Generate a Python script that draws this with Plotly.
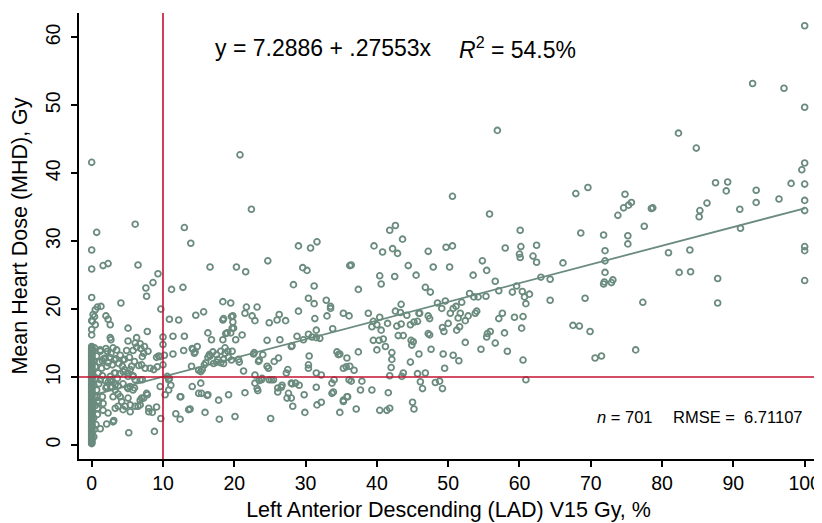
import plotly.graph_objects as go

# ---- data (LAD V15 %, MHD Gy) ----
mhd_at_zero_lad = [
    0.2, 0.3, 0.4, 0.5, 0.7, 0.8, 0.9, 1.0, 1.1, 1.2, 1.4, 1.5, 1.6, 1.7, 1.9, 2.0,
    2.1, 2.2, 2.4, 2.5, 2.6, 2.8, 2.9, 3.0, 3.1, 3.3, 3.4, 3.5, 3.6, 3.8, 3.9, 4.0,
    4.1, 4.3, 4.4, 4.5, 4.6, 4.8, 4.9, 5.0, 5.2, 5.3, 5.4, 5.5, 5.7, 5.8, 5.9, 6.0,
    6.2, 6.3, 6.4, 6.5, 6.7, 6.8, 6.9, 7.0, 7.2, 7.3, 7.4, 7.5, 7.7, 7.8, 7.9, 8.0,
    8.2, 8.3, 8.4, 8.5, 8.7, 8.8, 8.9, 9.1, 9.2, 9.3, 9.4, 9.6, 9.7, 9.8, 9.9, 10.1,
    10.2, 10.3, 10.4, 10.6, 10.7, 10.8, 10.9, 11.1, 11.2, 11.3, 11.4, 11.6, 11.7, 11.8,
    12.0, 12.1, 12.2, 12.3, 12.5, 12.6, 12.7, 12.8, 13.0, 13.1, 13.2, 13.3, 13.5, 13.6,
    13.7, 13.8, 14.0, 14.1, 14.2, 14.4, 14.5, 16.2, 17.0, 18.3, 21.7, 25.9, 28.7, 41.6,
]

near_zero_pts = [
    (0.1, 18.2), (0.2, 19.2), (0.5, 19.9), (0.5, 17.7), (0.8, 20.3), (1.3, 20.4),
    (0.4, 18.9), (0.6, 3.0), (0.8, 4.5), (0.5, 5.8), (0.9, 6.5), (0.4, 7.2),
    (0.7, 8.1), (1.0, 9.0), (0.6, 9.8), (0.9, 10.6), (0.5, 11.5), (1.1, 12.2),
    (0.7, 13.1), (1.2, 13.8), (0.3, 1.2), (0.4, 2.3), (0.3, 4.0), (0.2, 6.1),
    (0.3, 8.8), (0.2, 10.2), (0.3, 12.4), (0.2, 13.9), (0.4, 14.3), (0.7, 31.3),
    (1.2, 2.4), (0.7, 7.1), (0.9, 6.2), (0.8, 5.4), (1.2, 9.6),
]

low_lad_pts = [
    (1.6, 26.4), (2.3, 26.7), (6.5, 26.5), (6.1, 32.5), (9.3, 25.2), (8.6, 23.9),
    (7.6, 23.1), (7.7, 21.9), (4.1, 20.9), (9.7, 20.0), (11.2, 22.9), (12.8, 23.2),
    (13.0, 32.0), (13.9, 29.7), (2.0, 19.0), (2.3, 18.5), (2.6, 17.7), (10.9, 18.5),
    (12.2, 18.4), (5.1, 17.2), (7.8, 16.7), (10.0, 15.9), (10.0, 14.8), (11.4, 16.0),
    (13.0, 16.0), (14.8, 14.5), (2.6, 15.8), (2.7, 15.5), (5.1, 15.3), (6.3, 15.8),
    (6.8, 14.9), (6.1, 15.0), (7.4, 14.5), (7.9, 13.8), (7.3, 13.5), (7.1, 13.0),
    (12.9, 13.9), (11.4, 13.4), (10.2, 13.2), (9.4, 13.1), (9.1, 12.9), (9.6, 13.0),
    (4.6, 12.6), (3.4, 12.7), (2.7, 13.5), (2.2, 13.8), (1.9, 12.8), (1.5, 12.4),
    (2.3, 12.1), (4.3, 11.6), (5.6, 11.6), (6.6, 11.7), (7.5, 11.3), (8.2, 11.3),
    (8.7, 11.1), (10.0, 11.8), (9.2, 11.5), (7.0, 11.8), (2.0, 14.2), (1.7, 12.7),
    (1.4, 11.3), (2.1, 11.6), (2.9, 11.8), (3.2, 12.5), (3.8, 12.0), (4.4, 12.5),
    (4.9, 13.9), (5.8, 13.9), (6.3, 14.4), (6.9, 14.2), (3.5, 14.0), (4.0, 13.2),
    (5.3, 12.9), (6.0, 12.3), (2.5, 12.9), (1.2, 14.0), (3.0, 14.3), (4.6, 11.1),
    (5.1, 10.1), (5.8, 10.1), (6.1, 9.6), (6.8, 9.6), (7.1, 9.6), (3.2, 10.6),
    (2.6, 10.1), (4.0, 10.5), (1.5, 10.2), (1.9, 9.5), (2.8, 9.3), (3.6, 9.8),
    (5.4, 11.1), (5.8, 10.2), (5.1, 10.6), (4.4, 10.8), (3.3, 10.6), (2.6, 9.6),
    (9.6, 8.6), (10.8, 9.6), (11.1, 8.8), (10.3, 7.4), (10.8, 8.1), (10.6, 10.1),
    (10.9, 9.8), (12.4, 7.1), (13.6, 5.2), (2.1, 8.6), (2.8, 8.6), (3.3, 8.1),
    (3.0, 7.1), (4.0, 7.1), (4.2, 6.4), (5.1, 6.9), (5.4, 5.9), (4.7, 5.7),
    (3.7, 5.7), (4.4, 5.2), (5.4, 4.9), (6.1, 5.7), (6.8, 5.9), (7.0, 6.9),
    (7.7, 7.6), (5.4, 8.6), (5.8, 8.1), (5.1, 8.3), (2.3, 4.7), (3.3, 5.4),
    (2.1, 3.1), (3.1, 3.6), (5.2, 1.8), (8.8, 2.0), (6.5, 5.7), (6.8, 6.6),
    (7.3, 6.9), (7.8, 7.4), (8.0, 5.4), (8.5, 4.8), (3.7, 7.5), (9.1, 5.6),
    (9.7, 3.9), (11.8, 4.6), (12.4, 3.8), (1.6, 6.1), (1.5, 7.1), (1.6, 5.1),
    (3.0, 3.4), (2.0, 8.4), (2.7, 8.5), (3.7, 8.7), (4.4, 9.0), (5.0, 8.5),
    (6.0, 8.4), (2.3, 9.2), (3.3, 8.9), (8.0, 4.9),
]

mid_lad_pts = [
    (20.8, 42.7), (22.4, 34.7), (29.0, 29.3), (30.7, 29.0), (31.6, 29.9), (24.7, 27.1),
    (16.6, 26.2), (20.3, 26.2), (21.6, 25.5), (29.6, 26.1), (30.2, 25.7), (36.2, 26.4),
    (28.3, 23.6), (31.2, 23.4), (30.4, 21.6), (31.2, 20.8), (32.9, 21.3), (33.5, 20.4),
    (33.5, 20.1), (18.4, 21.1), (19.5, 20.9), (21.7, 20.3), (23.2, 20.3), (21.5, 19.4),
    (22.5, 19.0), (22.9, 18.3), (18.5, 18.6), (19.8, 19.0), (19.8, 18.1), (19.9, 17.2),
    (24.9, 18.0), (26.3, 19.2), (27.2, 18.3), (29.0, 19.7), (26.0, 18.4), (16.3, 16.5),
    (16.8, 15.5), (19.0, 16.5), (19.5, 16.5), (18.4, 15.5), (20.2, 15.5), (21.1, 16.2),
    (24.6, 15.4), (26.4, 15.5), (28.8, 16.0), (31.3, 18.6), (33.0, 19.0), (35.3, 19.4),
    (36.1, 19.0), (33.8, 17.1), (31.5, 16.9), (30.4, 16.3), (30.9, 15.9), (31.5, 15.8),
    (32.0, 15.7), (29.7, 15.5), (28.0, 14.5), (20.7, 12.2), (17.0, 13.7), (17.5, 13.3),
    (18.1, 13.8), (18.7, 14.3), (19.1, 13.8), (19.7, 13.8), (16.5, 13.3), (17.7, 12.6),
    (18.5, 12.6), (17.5, 12.2), (18.1, 12.1), (16.3, 12.9), (19.2, 12.9), (14.6, 19.1),
    (15.7, 19.6), (14.1, 14.2), (14.5, 13.7), (14.0, 11.6), (15.0, 11.0), (15.0, 7.6),
    (14.2, 14.1), (14.4, 13.5), (15.3, 10.8), (15.8, 11.8), (15.5, 11.1), (16.0, 12.1),
    (19.6, 12.5), (20.6, 12.6), (22.8, 13.6), (23.5, 12.5), (24.0, 13.3), (24.6, 11.6),
    (25.6, 12.3), (26.2, 12.8), (27.5, 11.1), (27.3, 10.6), (28.1, 14.6), (21.3, 10.9),
    (22.7, 13.4), (23.4, 12.3), (22.9, 10.3), (23.8, 9.6), (24.8, 11.3), (25.2, 9.6),
    (30.4, 11.8), (30.4, 11.3), (30.5, 13.1), (31.5, 10.6), (32.2, 10.3), (34.4, 13.7),
    (34.6, 13.3), (35.8, 12.8), (35.7, 11.5), (35.3, 11.3), (34.0, 9.6), (33.7, 9.1),
    (33.9, 7.8), (33.7, 7.6), (36.1, 9.6), (35.8, 7.1), (35.3, 6.6), (34.8, 4.8),
    (23.5, 9.5), (22.9, 9.1), (23.2, 8.3), (23.3, 8.0), (23.9, 9.8), (25.5, 9.6),
    (26.1, 8.4), (26.7, 8.8), (28.1, 9.0), (29.1, 8.8), (27.6, 7.6), (28.0, 6.9),
    (28.2, 5.7), (21.5, 7.7), (19.2, 7.4), (17.8, 6.6), (16.3, 7.4), (15.4, 7.6),
    (15.3, 9.1), (14.1, 8.6), (15.9, 4.8), (17.9, 3.8), (20.1, 4.2), (25.1, 3.9),
    (26.1, 7.8), (26.6, 8.5), (27.4, 6.9), (29.8, 7.4), (29.9, 4.8), (31.5, 8.5),
    (31.6, 5.9), (32.2, 6.3), (28.0, 9.1), (28.6, 9.1), (24.9, 9.6), (18.4, 18.4),
    (19.6, 18.9), (19.7, 17.2), (18.8, 16.4), (16.6, 13.1), (18.7, 13.5), (18.5, 12.0),
    (17.1, 12.0), (13.8, 5.3), (16.2, 7.3), (12.5, 7.1),
]

upper_mid_lad_pts = [
    (50.6, 36.6), (55.8, 34.0), (41.8, 31.6), (42.6, 32.3), (43.6, 30.3), (39.6, 29.3),
    (40.8, 28.4), (42.2, 28.9), (42.9, 28.2), (47.2, 28.5), (49.7, 29.1), (50.6, 29.3),
    (36.4, 26.5), (44.4, 26.4), (47.9, 26.2), (50.2, 26.2), (54.8, 27.1), (55.4, 25.7),
    (56.6, 24.1), (53.5, 25.0), (40.4, 24.9), (40.6, 23.7), (42.5, 24.8), (45.5, 25.0),
    (37.4, 22.9), (46.8, 23.2), (47.5, 22.5), (38.8, 19.4), (43.4, 20.7), (42.6, 19.7),
    (43.3, 19.5), (44.2, 19.1), (46.0, 19.4), (47.2, 19.0), (47.4, 18.6), (48.5, 20.9),
    (49.6, 21.2), (49.1, 20.1), (50.7, 20.1), (51.1, 20.4), (51.7, 19.4), (51.9, 21.0),
    (53.0, 22.3), (53.6, 21.8), (54.2, 21.8), (55.3, 21.9), (50.3, 19.4), (50.0, 17.9),
    (51.4, 18.7), (52.4, 18.3), (52.8, 19.0), (53.8, 19.4), (54.0, 19.7), (39.5, 18.2),
    (40.0, 17.7), (39.3, 17.4), (40.4, 18.8), (41.5, 17.9), (40.6, 16.9), (42.8, 17.5),
    (43.4, 17.8), (44.7, 17.7), (45.2, 18.1), (45.7, 18.2), (45.9, 19.4), (43.0, 16.1),
    (43.7, 16.1), (47.2, 16.4), (47.4, 16.2), (49.2, 17.3), (49.4, 16.7), (51.2, 16.9),
    (51.6, 17.4), (55.5, 16.4), (55.9, 16.7), (55.4, 15.9), (56.6, 15.0), (52.4, 15.1),
    (54.6, 14.1), (39.5, 15.4), (40.3, 15.4), (40.9, 15.6), (40.0, 14.0), (41.2, 14.5),
    (44.8, 15.4), (45.1, 15.2), (44.9, 14.7), (42.1, 13.6), (42.1, 12.6), (42.0, 11.4),
    (41.8, 10.2), (43.5, 10.1), (43.7, 10.6), (44.7, 12.2), (45.9, 13.4), (47.6, 14.1),
    (49.3, 13.4), (49.5, 11.3), (50.7, 13.2), (51.5, 12.4), (37.4, 13.7), (34.8, 13.4),
    (36.2, 11.6), (36.8, 11.0), (45.7, 10.5), (46.8, 10.6), (36.4, 9.4), (37.9, 9.4),
    (37.7, 8.1), (39.3, 8.1), (41.6, 7.7), (46.1, 9.3), (46.4, 8.3), (48.2, 9.2),
    (48.8, 9.4), (49.2, 8.3), (35.9, 7.1), (35.3, 6.4), (37.1, 5.3), (40.4, 5.1),
    (41.4, 5.1), (41.8, 5.4), (45.0, 6.3), (45.2, 5.3),
]

high_lad_pts = [
    (56.9, 46.3), (69.6, 37.9), (67.9, 37.0), (74.8, 36.9), (75.7, 35.7), (75.3, 35.3),
    (74.6, 34.9), (73.8, 33.8), (78.5, 34.8), (60.1, 31.6), (68.6, 31.2), (71.8, 30.9),
    (75.2, 30.8), (75.2, 29.6), (77.5, 32.2), (58.0, 29.0), (60.2, 29.2), (60.0, 28.1),
    (60.1, 27.6), (62.4, 29.4), (61.9, 27.8), (62.4, 26.9), (66.1, 26.8), (72.0, 28.6),
    (72.0, 27.1), (72.0, 25.4), (71.9, 24.0), (71.8, 23.7), (72.9, 23.9), (73.1, 24.3),
    (57.1, 22.7), (59.6, 23.4), (59.0, 22.5), (60.4, 22.6), (60.7, 21.8), (61.4, 22.2),
    (60.9, 20.8), (63.0, 24.7), (64.3, 24.4), (64.3, 21.3), (69.2, 21.6), (77.3, 21.0),
    (57.6, 19.4), (57.1, 18.6), (59.3, 18.8), (60.5, 18.9), (60.3, 17.2), (57.9, 16.5),
    (58.3, 13.8), (60.5, 12.5), (67.5, 17.6), (68.4, 17.5), (69.9, 16.7), (70.6, 12.8),
    (71.5, 13.1), (76.3, 14.0), (60.9, 9.6),
    (100.0, 61.7), (92.7, 53.2), (97.1, 52.5), (100.0, 49.7), (82.3, 45.9), (84.8, 43.7),
    (100.0, 41.5), (99.6, 40.5), (87.5, 38.6), (89.2, 38.7), (89.0, 37.4), (98.1, 38.5),
    (100.0, 38.4), (93.2, 37.5), (93.2, 35.7), (96.4, 36.2), (100.0, 36.0), (100.0, 34.5),
    (78.7, 34.9), (86.3, 35.6), (85.3, 34.5), (85.2, 33.6), (90.9, 34.7), (91.0, 31.9),
    (80.9, 28.3), (83.9, 28.7), (100.0, 29.2), (100.0, 28.6), (82.4, 25.4), (84.0, 25.5),
    (87.8, 24.5), (100.0, 24.2), (87.8, 20.9),
]

fit_intercept = 7.2886
fit_slope = 0.27553
fit_x = [0, 100]
ref_lad = 10
ref_mhd = 10
x_ticks = [0, 10, 20, 30, 40, 50, 60, 70, 80, 90, 100]
y_ticks = [0, 10, 20, 30, 40, 50, 60]

# ---- assemble ----
pts = near_zero_pts + low_lad_pts + mid_lad_pts + upper_mid_lad_pts + high_lad_pts
lad = [0.0] * len(mhd_at_zero_lad) + [p[0] for p in pts]
mhd = list(mhd_at_zero_lad) + [p[1] for p in pts]

green = "#6a8b7e"
red = "#c41230"
font = "Liberation Sans, Arial, Helvetica, sans-serif"

fig = go.Figure()
fig.add_trace(go.Scatter(
    x=lad, y=mhd, mode="markers",
    marker=dict(symbol="circle-open", size=5.8, color=green, line=dict(width=1.8, color=green)),
    hoverinfo="skip", showlegend=False,
))
fig.add_trace(go.Scatter(
    x=fit_x, y=[fit_intercept + fit_slope * v for v in fit_x], mode="lines",
    line=dict(color=green, width=1.8), hoverinfo="skip", showlegend=False,
))

fig.add_shape(type="line", xref="x", yref="paper", x0=ref_lad, x1=ref_lad, y0=0, y1=1,
              line=dict(color=red, width=1.6), layer="above")
fig.add_shape(type="line", xref="paper", yref="y", x0=0, x1=1, y0=ref_mhd, y1=ref_mhd,
              line=dict(color=red, width=1.6), layer="above")

fig.add_annotation(x=17.0, y=58.4, xref="x", yref="y", xanchor="left", yanchor="middle",
                   text="y = 7.2886 + .27553x", showarrow=False,
                   font=dict(family=font, size=23, color="black"))
fig.add_annotation(x=68.2, y=58.4, xref="x", yref="y", xanchor="right", yanchor="middle",
                   text="<i>R</i><sup>2</sup> = 54.5%", showarrow=False,
                   font=dict(family=font, size=23, color="black"))
fig.add_annotation(x=70.66, y=4.17, xref="x", yref="y", xanchor="left", yanchor="middle",
                   text="<i>n</i> = 701", showarrow=False,
                   font=dict(family=font, size=16.5, color="black"))
fig.add_annotation(x=99.86, y=4.17, xref="x", yref="y", xanchor="right", yanchor="middle",
                   text="RMSE =\u00a0 6.71107", showarrow=False,
                   font=dict(family=font, size=16.5, color="black"))

axis_common = dict(
    showgrid=False, zeroline=False, showline=True, linecolor="black", linewidth=1.5,
    ticks="outside", ticklen=6, tickwidth=1.5, tickcolor="black", automargin=False,
    tickfont=dict(family=font, size=19.5, color="black"),
)

# The page body has an 8px margin, so the figure is sized 8px smaller and
# positioned so the plot area lands where the reference has it.
fig.update_layout(
    width=814, height=515,
    margin=dict(l=71, r=4, t=5, b=64, autoexpand=False),
    paper_bgcolor="white", plot_bgcolor="white",
    font=dict(family=font, color="black"),
    xaxis=dict(range=[-1.78, 101.87], tickvals=x_ticks, **axis_common,
               title=dict(text="Left Anterior Descending (LAD) V15 Gy, %",
                          font=dict(family=font, size=21.5, color="black"), standoff=9)),
    yaxis=dict(range=[-2.06, 63.58], tickvals=y_ticks, tickangle=-90, ticklabelstandoff=3,
               **axis_common,
               title=dict(text="Mean Heart Dose (MHD), Gy",
                          font=dict(family=font, size=21.5, color="black"), standoff=10)),
)

fig.write_html("out.html")
